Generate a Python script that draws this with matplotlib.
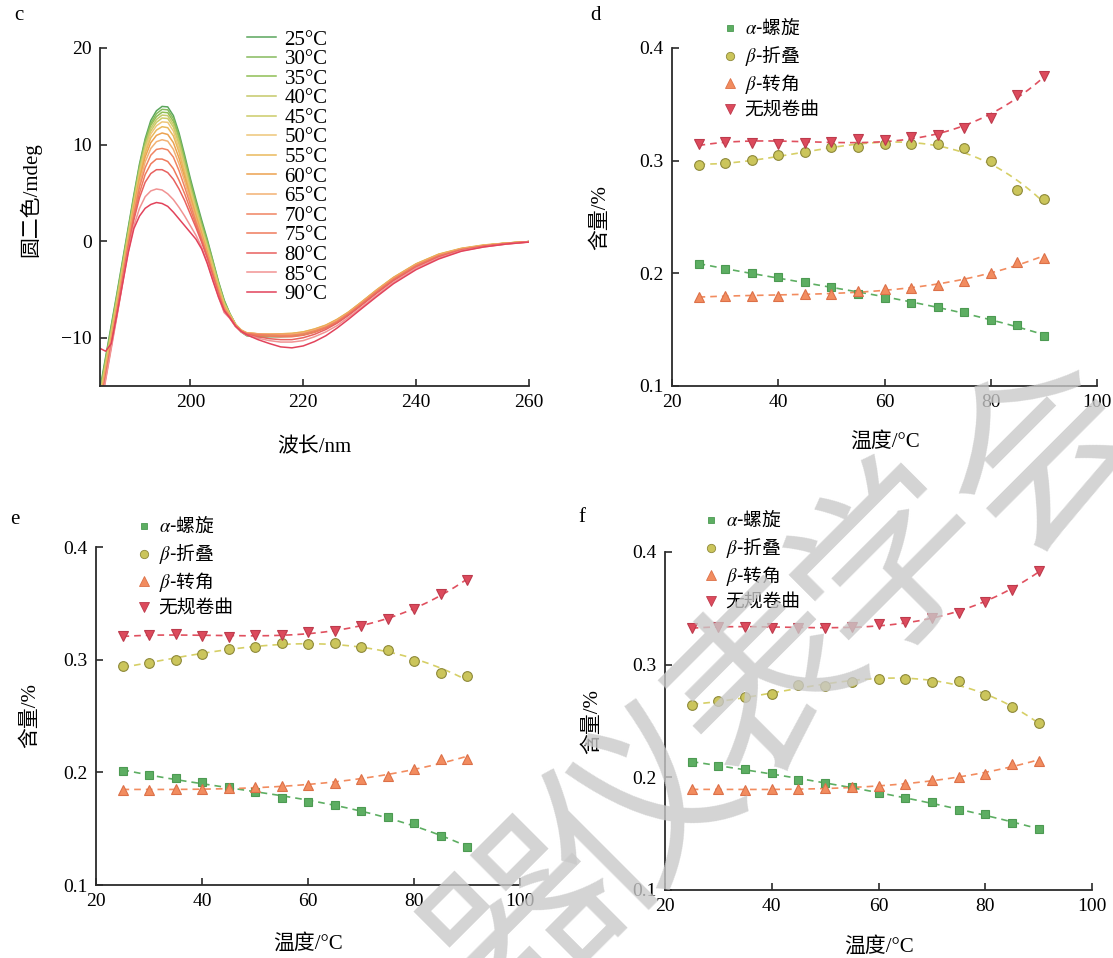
import numpy as np
import matplotlib
matplotlib.use("Agg")
import matplotlib.pyplot as plt

plt.rcParams["font.family"] = ["Liberation Serif", "Noto Sans CJK SC", "DejaVu Sans"]
plt.rcParams["mathtext.fontset"] = "stix"
plt.rcParams["axes.unicode_minus"] = True

# ── data: CD spectra (panel c) ────────────────────────────────────
wavelength = [184, 185, 186, 187, 188, 189, 190, 191, 192, 193, 194, 195, 196, 197,
              198, 199, 200, 201, 202, 203, 204, 205, 206,
              207, 208, 209, 210, 212, 214, 216, 218, 220, 222, 224, 226, 228, 230,
              233, 236, 240, 244, 248, 252, 256, 260]

cd_25 = [-15.3, -12.0, -8.7, -5.4, -2.0, 1.4, 4.8, 8.0, 10.6, 12.5, 13.5, 13.95, 13.9, 13.0,
         11.2, 8.9, 6.5, 4.3, 2.2, 0.2, -2.0, -4.2, -6.1,
         -7.5, -8.6, -9.4, -9.8, -9.95, -9.9, -9.9, -9.85, -9.7, -9.4, -8.95, -8.35, -7.55, -6.65,
         -5.25, -3.9, -2.45, -1.45, -0.8, -0.45, -0.22, -0.05]
cd_30 = [-15.5, -12.2, -8.9, -5.6, -2.2, 1.2, 4.6, 7.8, 10.4, 12.2, 13.2, 13.65, 13.6, 12.7,
         10.9, 8.6, 6.2, 4.0, 1.9, 0.0, -2.1, -4.3, -6.2,
         -7.5, -8.6, -9.35, -9.75, -9.9, -9.85, -9.85, -9.8, -9.65, -9.35, -8.9, -8.3, -7.5, -6.6,
         -5.2, -3.85, -2.45, -1.45, -0.8, -0.45, -0.22, -0.05]
cd_35 = [-15.7, -12.4, -9.1, -5.8, -2.4, 1.0, 4.4, 7.6, 10.2, 12.0, 12.9, 13.35, 13.3, 12.4,
         10.6, 8.3, 5.9, 3.7, 1.7, -0.2, -2.3, -4.4, -6.3,
         -7.55, -8.6, -9.3, -9.7, -9.85, -9.8, -9.8, -9.75, -9.6, -9.3, -8.85, -8.25, -7.45, -6.55,
         -5.15, -3.85, -2.4, -1.4, -0.8, -0.45, -0.22, -0.05]
cd_40 = [-15.9, -12.6, -9.3, -6.0, -2.6, 0.8, 4.2, 7.4, 9.9, 11.7, 12.6, 13.05, 13.0, 12.1,
         10.3, 8.0, 5.6, 3.5, 1.5, -0.4, -2.4, -4.5, -6.4,
         -7.6, -8.6, -9.25, -9.6, -9.7, -9.7, -9.7, -9.65, -9.5, -9.2, -8.8, -8.2, -7.4, -6.5,
         -5.1, -3.8, -2.4, -1.4, -0.8, -0.45, -0.2, -0.05]
cd_45 = [-16.1, -12.8, -9.5, -6.2, -2.8, 0.6, 4.0, 7.2, 9.7, 11.4, 12.3, 12.75, 12.7, 11.8,
         10.0, 7.7, 5.4, 3.3, 1.3, -0.6, -2.6, -4.6, -6.5,
         -7.6, -8.6, -9.2, -9.55, -9.65, -9.65, -9.65, -9.6, -9.45, -9.15, -8.75, -8.15, -7.4, -6.5,
         -5.1, -3.8, -2.4, -1.4, -0.8, -0.45, -0.2, -0.05]
cd_50 = [-16.3, -13.0, -9.7, -6.4, -3.0, 0.4, 3.8, 6.9, 9.4, 11.1, 11.95, 12.35, 12.3, 11.4,
         9.6, 7.4, 5.1, 3.0, 1.1, -0.8, -2.8, -4.8, -6.6,
         -7.65, -8.6, -9.2, -9.5, -9.6, -9.6, -9.6, -9.55, -9.4, -9.1, -8.7, -8.1, -7.35, -6.45,
         -5.05, -3.75, -2.35, -1.35, -0.75, -0.4, -0.2, -0.05]
cd_55 = [-16.5, -13.2, -9.9, -6.6, -3.2, 0.2, 3.6, 6.7, 9.1, 10.7, 11.5, 11.85, 11.75, 10.9,
         9.2, 7.0, 4.8, 2.8, 0.9, -1.0, -3.0, -4.9, -6.7,
         -7.7, -8.65, -9.2, -9.5, -9.6, -9.6, -9.6, -9.55, -9.4, -9.1, -8.7, -8.1, -7.35, -6.45,
         -5.05, -3.75, -2.35, -1.35, -0.75, -0.4, -0.2, -0.05]
cd_60 = [-16.7, -13.4, -10.1, -6.8, -3.4, 0.0, 3.4, 6.4, 8.7, 10.2, 10.95, 11.2, 11.05, 10.2,
         8.6, 6.6, 4.5, 2.5, 0.7, -1.2, -3.2, -5.1, -6.8,
         -7.75, -8.7, -9.25, -9.5, -9.6, -9.6, -9.6, -9.6, -9.45, -9.15, -8.75, -8.15, -7.4, -6.5,
         -5.1, -3.8, -2.4, -1.4, -0.8, -0.45, -0.2, -0.05]
cd_65 = [-16.9, -13.6, -10.3, -7.0, -3.6, -0.2, 3.1, 6.0, 8.2, 9.6, 10.3, 10.5, 10.35, 9.5,
         8.0, 6.2, 4.2, 2.3, 0.5, -1.4, -3.3, -5.2, -6.9,
         -7.8, -8.7, -9.25, -9.5, -9.6, -9.6, -9.65, -9.65, -9.5, -9.2, -8.8, -8.2, -7.45, -6.55,
         -5.15, -3.85, -2.45, -1.45, -0.8, -0.45, -0.22, -0.05]
cd_70 = [-17.1, -13.8, -10.5, -7.2, -3.8, -0.4, 2.8, 5.6, 7.6, 8.9, 9.5, 9.6, 9.45, 8.7,
         7.3, 5.6, 3.8, 2.0, 0.3, -1.5, -3.4, -5.3, -7.0,
         -7.85, -8.75, -9.3, -9.55, -9.65, -9.7, -9.75, -9.75, -9.6, -9.3, -8.9, -8.3, -7.5, -6.6,
         -5.2, -3.9, -2.5, -1.5, -0.85, -0.5, -0.25, -0.05]
cd_75 = [-17.3, -14.0, -10.7, -7.4, -4.0, -0.6, 2.5, 5.0, 6.9, 8.0, 8.5, 8.5, 8.25, 7.5,
         6.3, 4.9, 3.3, 1.7, 0.1, -1.6, -3.5, -5.4, -7.1,
         -7.9, -8.75, -9.3, -9.6, -9.75, -9.85, -9.9, -9.9, -9.75, -9.45, -9.0, -8.4, -7.6, -6.7,
         -5.3, -4.0, -2.6, -1.55, -0.9, -0.5, -0.25, -0.05]
cd_80 = [-17.5, -14.2, -10.9, -7.6, -4.2, -0.8, 2.2, 4.5, 6.1, 7.0, 7.4, 7.4, 7.1, 6.4,
         5.4, 4.2, 2.8, 1.4, -0.1, -1.8, -3.7, -5.6, -7.3,
         -7.95, -8.8, -9.35, -9.65, -9.9, -10.1, -10.2, -10.2, -10.0, -9.65, -9.15, -8.5, -7.7, -6.8,
         -5.4, -4.1, -2.7, -1.65, -0.95, -0.55, -0.28, -0.08]
cd_85 = [-17.7, -14.4, -11.1, -7.8, -4.4, -1.1, 1.6, 3.4, 4.6, 5.2, 5.4, 5.3, 4.9, 4.3,
         3.5, 2.6, 1.6, 0.6, -0.6, -2.2, -4.0, -5.8, -7.4,
         -8.0, -8.85, -9.4, -9.75, -10.05, -10.3, -10.45, -10.45, -10.3, -9.9, -9.4, -8.75, -7.9, -7.0,
         -5.6, -4.25, -2.8, -1.75, -1.0, -0.6, -0.3, -0.08]
cd_90 = [-11.1, -11.4, -10.6, -7.6, -4.4, -1.2, 1.3, 2.6, 3.4, 3.8, 4.0, 3.9, 3.6, 3.0,
         2.3, 1.6, 0.9, 0.2, -0.8, -2.3, -4.1, -5.8, -7.2,
         -7.95, -8.8, -9.35, -9.7, -10.2, -10.6, -10.95, -11.05, -10.85, -10.4, -9.8, -9.0, -8.1, -7.15,
         -5.75, -4.4, -2.95, -1.85, -1.05, -0.6, -0.3, -0.1]

cd_temps = [25, 30, 35, 40, 45, 50, 55, 60, 65, 70, 75, 80, 85, 90]
cd_curves = [cd_25, cd_30, cd_35, cd_40, cd_45, cd_50, cd_55,
             cd_60, cd_65, cd_70, cd_75, cd_80, cd_85, cd_90]
cd_colors = ["#5aa65c", "#86bb5e", "#8fbe55", "#c5c96a", "#cbcb68", "#eec679", "#e9b95c",
             "#eca24f", "#f2b173", "#f08462", "#ef7a5c", "#e8615f", "#f19393", "#e2435b"]

# ── data: secondary structure content (panels d, e, f) ───────────
temps = [25, 30, 35, 40, 45, 50, 55, 60, 65, 70, 75, 80, 85, 90]

d_helix = [0.208, 0.204, 0.2005, 0.197, 0.192, 0.188, 0.182, 0.178, 0.174, 0.170, 0.1656, 0.159, 0.154, 0.144]
d_sheet = [0.296, 0.298, 0.301, 0.305, 0.308, 0.312, 0.312, 0.315, 0.3146, 0.315, 0.311, 0.300, 0.274, 0.266]
d_turn = [0.179, 0.180, 0.180, 0.180, 0.182, 0.182, 0.184, 0.1857, 0.1872, 0.1896, 0.193, 0.2005, 0.2105, 0.214]
d_coil = [0.315, 0.3163, 0.3158, 0.315, 0.3158, 0.317, 0.319, 0.3187, 0.321, 0.3229, 0.3288, 0.3382, 0.358, 0.375]

e_helix = [0.201, 0.198, 0.195, 0.191, 0.187, 0.1825, 0.1772, 0.174, 0.1707, 0.1654, 0.1604, 0.1551, 0.1433, 0.1333]
e_sheet = [0.2945, 0.2972, 0.2995, 0.3048, 0.3095, 0.3116, 0.3148, 0.3139, 0.3151, 0.311, 0.3086, 0.2989, 0.288, 0.2854]
e_turn = [0.1846, 0.1846, 0.1852, 0.1849, 0.186, 0.1872, 0.1875, 0.1887, 0.1905, 0.194, 0.197, 0.2034, 0.2117, 0.2117]
e_coil = [0.3207, 0.3216, 0.3225, 0.3207, 0.3204, 0.3216, 0.3219, 0.3249, 0.3251, 0.3299, 0.3358, 0.3446, 0.3584, 0.3711]

f_helix = [0.2138, 0.210, 0.2076, 0.2037, 0.1975, 0.1952, 0.1916, 0.1857, 0.1813, 0.1777, 0.1712, 0.1674, 0.1597, 0.1544]
f_sheet = [0.2643, 0.2676, 0.2714, 0.2741, 0.2818, 0.2815, 0.2847, 0.2874, 0.2874, 0.285, 0.2853, 0.2729, 0.2626, 0.2478]
f_turn = [0.1893, 0.1893, 0.189, 0.1893, 0.1893, 0.1904, 0.1916, 0.1922, 0.1937, 0.1972, 0.1999, 0.2034, 0.212, 0.2144]
f_coil = [0.3329, 0.3335, 0.3335, 0.3326, 0.3323, 0.3329, 0.3335, 0.3359, 0.3379, 0.3418, 0.3456, 0.356, 0.3666, 0.3835]

series_labels = [r"$\alpha$-螺旋", r"$\beta$-折叠", r"$\beta$-转角", "无规卷曲"]

# marker, face, edge, dashed-fit colour, size
STYLES = [
    ("s", "#5dae62", "#4c9a52", "#5dae62", 6.0),
    ("o", "#cbc55b", "#8e893a", "#d6cf66", 7.0),
    ("^", "#f28c5f", "#dc7048", "#f28c5f", 7.5),
    ("v", "#dc4a5c", "#bd3a4c", "#e0505f", 7.5),
]

W, H = 1113, 958
FS = 15      # axis labels
TFS = 14     # tick labels
LEG_PROP = {"family": "Noto Sans CJK SC", "size": 13.5}


def px_axes(fig, left, top, right, bottom):
    return fig.add_axes([left / W, 1 - bottom / H, (right - left) / W, (bottom - top) / H])


def style_axes(ax):
    for side in ("top", "right"):
        ax.spines[side].set_visible(False)
    for side in ("left", "bottom"):
        ax.spines[side].set_linewidth(1.3)
        ax.spines[side].set_color("#2b2b2b")
    ax.tick_params(direction="in", length=5, width=1.2, color="#2b2b2b",
                   labelsize=TFS, pad=6)


def plot_content(fig, box, series, letter, letter_pos, leg_pos, ylab_x, xlab_y):
    ax = px_axes(fig, *box)
    style_axes(ax)
    xs = np.linspace(temps[0], temps[-1], 200)
    handles = []
    for vals, (mk, fc, ec, lc, ms), lab in zip(series, STYLES, series_labels):
        coef = np.polyfit(temps, vals, 3)
        ax.plot(xs, np.polyval(coef, xs), color=lc, lw=1.2, ls=(0, (4, 3)), zorder=2)
        ax.plot(temps, vals, mk, ms=ms, mfc=fc, mec=ec, mew=0.8, zorder=3)
        h, = ax.plot([], [], mk, ms=ms - 1, mfc=fc, mec=ec, mew=0.6, label=lab)
        handles.append(h)
    ax.set_xlim(20, 100)
    ax.set_ylim(0.1, 0.4)
    ax.set_xticks([20, 40, 60, 80, 100])
    ax.set_yticks([0.1, 0.2, 0.3, 0.4])
    ax.set_yticklabels(["0.1", "0.2", "0.3", "0.4"])
    ax.legend(handles=handles, loc="upper left", frameon=False, prop=LEG_PROP,
              bbox_to_anchor=(leg_pos[0] / W, 1 - leg_pos[1] / H),
              bbox_transform=fig.transFigure, handlelength=0.6, handletextpad=0.5,
              labelspacing=0.2, borderpad=0, borderaxespad=0)
    fig.text(letter_pos[0] / W, 1 - letter_pos[1] / H, letter, fontsize=FS,
             ha="left", va="center")
    fig.text(ylab_x / W, 1 - (box[1] + box[3]) / 2 / H, "含量/%", fontsize=FS,
             rotation=90, ha="center", va="center")
    fig.text((box[0] + box[2]) / 2 / W, 1 - xlab_y / H, "温度/°C", fontsize=FS,
             ha="center", va="center")
    return ax


fig = plt.figure(figsize=(W / 100, H / 100), dpi=100)

# ── panel c: CD spectra ──────────────────────────────────────────
axc = px_axes(fig, 100, 48, 529, 386)
style_axes(axc)
for t, vals, col in zip(cd_temps, cd_curves, cd_colors):
    axc.plot(wavelength, vals, color=col, lw=1.1, label=f"{t}°C")
axc.set_xlim(184, 260)
axc.set_ylim(-15, 20)
axc.set_xticks([200, 220, 240, 260])
axc.set_yticks([-10, 0, 10, 20])
axc.legend(loc="upper left", frameon=False, fontsize=15,
           bbox_to_anchor=(247 / W, 1 - 30 / H), bbox_transform=fig.transFigure,
           handlelength=1.4, handletextpad=0.4, labelspacing=0.0,
           borderpad=0, borderaxespad=0)
fig.text(14 / W, 1 - 16 / H, "c", fontsize=FS, ha="left", va="center")
fig.text(30 / W, 1 - 200 / H, "圆二色/mdeg", fontsize=FS, rotation=90,
         ha="center", va="center")
fig.text(314 / W, 1 - 448 / H, "波长/nm", fontsize=FS, ha="center", va="center")

# ── panels d, e, f ───────────────────────────────────────────────
plot_content(fig, (672, 48, 1097, 386), [d_helix, d_sheet, d_turn, d_coil],
             "d", (590, 16), (724, 18), 600, 442)
plot_content(fig, (96, 547, 520, 885), [e_helix, e_sheet, e_turn, e_coil],
             "e", (10, 520), (138, 516), 30, 944)
plot_content(fig, (665, 552, 1092, 890), [f_helix, f_sheet, f_turn, f_coil],
             "f", (578, 517), (705, 510), 592, 947)

# ── watermark ────────────────────────────────────────────────────
wm_pos = [(528, 925), (645, 815), (770, 685), (893, 563), (1045, 455)]
for ch, (cx, cy) in zip("器仪表学会", wm_pos):
    fig.text(cx / W, 1 - cy / H, ch, fontsize=135, color="#c9c9c9", alpha=0.8,
             rotation=45, ha="center", va="center", family="Noto Sans CJK SC",
             weight="normal", zorder=10)

fig.savefig("out.png", dpi=100)
